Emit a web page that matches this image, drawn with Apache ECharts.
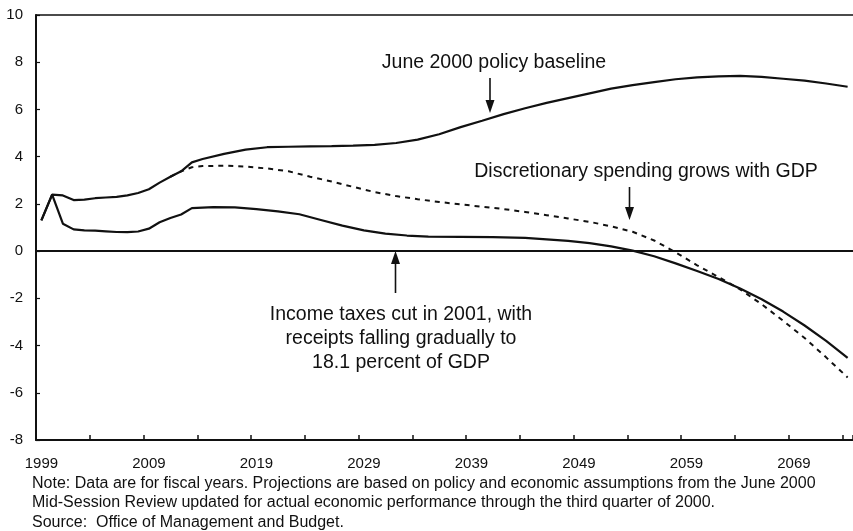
<!DOCTYPE html>
<html>
<head>
<meta charset="utf-8">
<script src="https://cdn.jsdelivr.net/npm/echarts@6/dist/echarts.min.js"></script>
<style>
html,body{margin:0;padding:0;background:#fff;}
#chart{width:853px;height:531px;}
</style>
</head>
<body>
<div id="chart"></div>
<script>
// ---- data ----
var firstYear = 1999, lastYear = 2074;
var yTicks = [-8, -6, -4, -2, 0, 2, 4, 6, 8, 10];

var baselineYears = [1999,2000,2001,2002,2003,2004,2005,2006,2007,2008,2009,2010,2011,2012,2013,2014,2016,2018,2020,2022,2024,2026,2028,2030,2032,2034,2036,2038,2040,2042,2044,2046,2048,2050,2052,2054,2056,2058,2060,2062,2064,2066,2068,2070,2072,2074];
var baselineValues = [1.30,2.39,2.36,2.16,2.18,2.24,2.27,2.30,2.36,2.46,2.62,2.90,3.15,3.38,3.76,3.90,4.12,4.30,4.40,4.42,4.44,4.45,4.47,4.50,4.58,4.72,4.95,5.25,5.52,5.80,6.05,6.28,6.48,6.68,6.88,7.03,7.16,7.28,7.36,7.40,7.42,7.38,7.30,7.22,7.10,6.96];

var discYears = [2011,2012,2013,2014,2016,2018,2020,2022,2024,2026,2028,2030,2032,2034,2036,2038,2040,2042,2044,2046,2048,2050,2052,2054,2056,2058,2060,2062,2064,2066,2068,2070,2072,2074];
var discValues = [3.15,3.38,3.55,3.60,3.62,3.58,3.50,3.38,3.15,2.95,2.72,2.50,2.33,2.20,2.08,1.98,1.88,1.78,1.66,1.52,1.38,1.24,1.05,0.82,0.45,-0.05,-0.60,-1.10,-1.62,-2.25,-2.95,-3.68,-4.50,-5.35];

var taxYears = [1999,2000,2001,2002,2003,2004,2005,2006,2007,2008,2009,2010,2011,2012,2013,2015,2017,2019,2021,2023,2025,2027,2029,2031,2033,2035,2038,2041,2044,2046,2048,2050,2052,2054,2056,2058,2060,2062,2064,2066,2068,2070,2072,2074];
var taxValues = [1.30,2.39,1.16,0.92,0.88,0.87,0.84,0.81,0.80,0.83,0.95,1.22,1.40,1.55,1.82,1.86,1.85,1.78,1.68,1.56,1.32,1.08,0.88,0.74,0.66,0.61,0.60,0.59,0.56,0.50,0.43,0.34,0.20,0.02,-0.22,-0.52,-0.84,-1.18,-1.58,-2.04,-2.56,-3.15,-3.80,-4.52];

var noteLines = [
  'Note: Data are for fiscal years. Projections are based on policy and economic assumptions from the June 2000',
  'Mid-Session Review updated for actual economic performance through the third quarter of 2000.',
  'Source:  Office of Management and Budget.'
];
var labelBaseline = 'June 2000 policy baseline';
var labelDisc = 'Discretionary spending grows with GDP';
var labelTax = 'Income taxes cut in 2001, with\nreceipts falling gradually to\n18.1 percent of GDP';

// ---- build ----
var categories = [];
for (var y = firstYear; y <= lastYear; y++) categories.push(String(y));
function pairs(xs, vs) { return xs.map(function (x, i) { return [String(x), vs[i]]; }); }

var FONT = '"Liberation Sans", Arial, Helvetica, sans-serif';
var INK = '#111';

function arrow(x, yFrom, yTip) {
  var dir = yTip > yFrom ? 1 : -1;
  var headLen = 13, headW = 4.5;
  return {
    type: 'group', silent: true,
    children: [
      { type: 'line', shape: { x1: x, y1: yFrom, x2: x, y2: yTip - dir * headLen + dir * 2 }, style: { stroke: INK, lineWidth: 1.6 } },
      { type: 'polygon', shape: { points: [[x - headW, yTip - dir * headLen], [x + headW, yTip - dir * headLen], [x, yTip]] }, style: { fill: INK } }
    ]
  };
}

var chart = echarts.init(document.getElementById('chart'), null, { renderer: 'canvas' });
var option = {
  animation: false,
  backgroundColor: '#fff',
  grid: { left: 36, right: 0, top: 15, bottom: 91, containLabel: false },
  xAxis: [{
    type: 'category',
    data: categories,
    boundaryGap: true,
    axisLine: { show: true, onZero: false, lineStyle: { color: INK, width: 2 } },
    axisTick: { show: true, inside: true, length: 5, lineStyle: { color: INK, width: 1.5 },
      interval: function (i) { return i % 5 === 0; } },
    axisLabel: { show: true, margin: 16, fontSize: 15, color: INK, fontFamily: FONT,
      interval: function (i) { return i % 10 === 0; } },
    splitLine: { show: false }
  }, {
    type: 'category',
    data: categories,
    position: 'top',
    axisLine: { show: true, onZero: false, lineStyle: { color: INK, width: 1.5 } },
    axisTick: { show: false },
    axisLabel: { show: false },
    splitLine: { show: false }
  }],
  yAxis: {
    type: 'value',
    min: yTicks[0],
    max: yTicks[yTicks.length - 1],
    interval: 2,
    axisLine: { show: true, onZero: false, lineStyle: { color: INK, width: 2 } },
    axisTick: { show: true, inside: true, length: 4, lineStyle: { color: INK, width: 1.2 } },
    axisLabel: { margin: 13, fontSize: 15, color: INK, fontFamily: FONT },
    splitLine: { show: false }
  },
  series: [
    {
      name: 'Discretionary spending grows with GDP',
      type: 'line',
      data: pairs(discYears, discValues),
      showSymbol: false, symbol: 'none',
      lineStyle: { color: INK, width: 2, type: [5, 5] },
      z: 2
    },
    {
      name: 'June 2000 policy baseline',
      type: 'line',
      data: pairs(baselineYears, baselineValues),
      showSymbol: false, symbol: 'none',
      lineStyle: { color: INK, width: 2.2 },
      z: 3,
      markLine: {
        silent: true, symbol: 'none', animation: false,
        label: { show: false },
        lineStyle: { color: INK, width: 1.8, type: 'solid' },
        data: [{ yAxis: 0 }]
      }
    },
    {
      name: 'Income taxes cut in 2001',
      type: 'line',
      data: pairs(taxYears, taxValues),
      showSymbol: false, symbol: 'none',
      lineStyle: { color: INK, width: 2.2 },
      z: 3
    }
  ],
  graphic: [
    { type: 'text', x: 494, y: 63, silent: true,
      style: { text: labelBaseline, font: '19.5px ' + FONT, fill: INK, textAlign: 'center', textVerticalAlign: 'middle' } },
    arrow(490, 78, 113),
    { type: 'text', x: 646, y: 172, silent: true,
      style: { text: labelDisc, font: '19.5px ' + FONT, fill: INK, textAlign: 'center', textVerticalAlign: 'middle' } },
    arrow(629.5, 187, 220),
    { type: 'text', x: 401, y: 339, silent: true,
      style: { text: labelTax, font: '19.5px ' + FONT, fill: INK, textAlign: 'center', textVerticalAlign: 'middle', lineHeight: 24 } },
    arrow(395.5, 293, 251),
    { type: 'text', x: 32, y: 483.5, silent: true,
      style: { text: noteLines[0], font: '16px ' + FONT, fill: INK, textAlign: 'left', textVerticalAlign: 'middle' } },
    { type: 'text', x: 32, y: 502.5, silent: true,
      style: { text: noteLines[1], font: '16px ' + FONT, fill: INK, textAlign: 'left', textVerticalAlign: 'middle' } },
    { type: 'text', x: 32, y: 522.5, silent: true,
      style: { text: noteLines[2], font: '16px ' + FONT, fill: INK, textAlign: 'left', textVerticalAlign: 'middle' } }
  ]
};
chart.setOption(option);
</script>
</body>
</html>
